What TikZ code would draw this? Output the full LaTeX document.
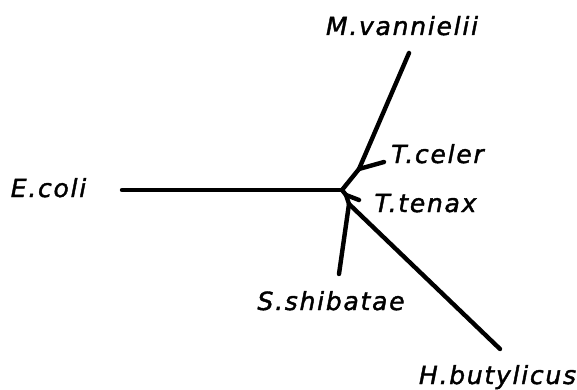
\documentclass[tikz,border=0pt]{standalone}
\usepackage{fontspec}
\newfontfamily\labfont[LetterSpace=7,FakeBold=1.6]{DejaVu Sans}
\tikzset{
  taxon/.style={font=\labfont\itshape\fontsize{25}{28}\selectfont, anchor=base, inner sep=0pt},
  branch/.style={line width=4.4pt, line cap=round, line join=round}
}
\begin{document}
\begin{tikzpicture}[x=1pt,y=-1pt]
\useasboundingbox (0,0) rectangle (577,390);
% internal nodes
\coordinate (A) at (342,190);
\coordinate (B) at (359,169);
\coordinate (D1) at (346,195);
\coordinate (D2) at (349,204);
% leaves
\coordinate (ecoli) at (122,190);
\coordinate (mvan) at (409,53);
\coordinate (tcel) at (384,162);
\coordinate (tten) at (359,200);
\coordinate (sshi) at (339,274);
\coordinate (hbut) at (500,349);
% branches
\draw[branch] (ecoli) -- (A);
\draw[branch] (A) -- (B);
\draw[branch] (B) -- (mvan);
\draw[branch] (B) -- (tcel);
\draw[branch] (A) -- (D1);
\draw[branch] (D1) -- (tten);
\draw[branch] (D1) -- (D2);
\draw[branch] (D2) -- (sshi);
\draw[branch] (D2) -- (hbut);
% labels
\node[taxon] (lmvan) at (402,35) {M.vannielii};
\node[taxon] (lecoli) at (48.5,197) {E.coli};
\node[taxon] (ltcel) at (437.5,163) {T.celer};
\node[taxon] (ltten) at (425.5,212) {T.tenax};
\node[taxon] (lsshi) at (331,310) {S.shibatae};
\node[taxon] (lhbut) at (497.5,384) {H.butylicus};
\end{tikzpicture}
\end{document}
